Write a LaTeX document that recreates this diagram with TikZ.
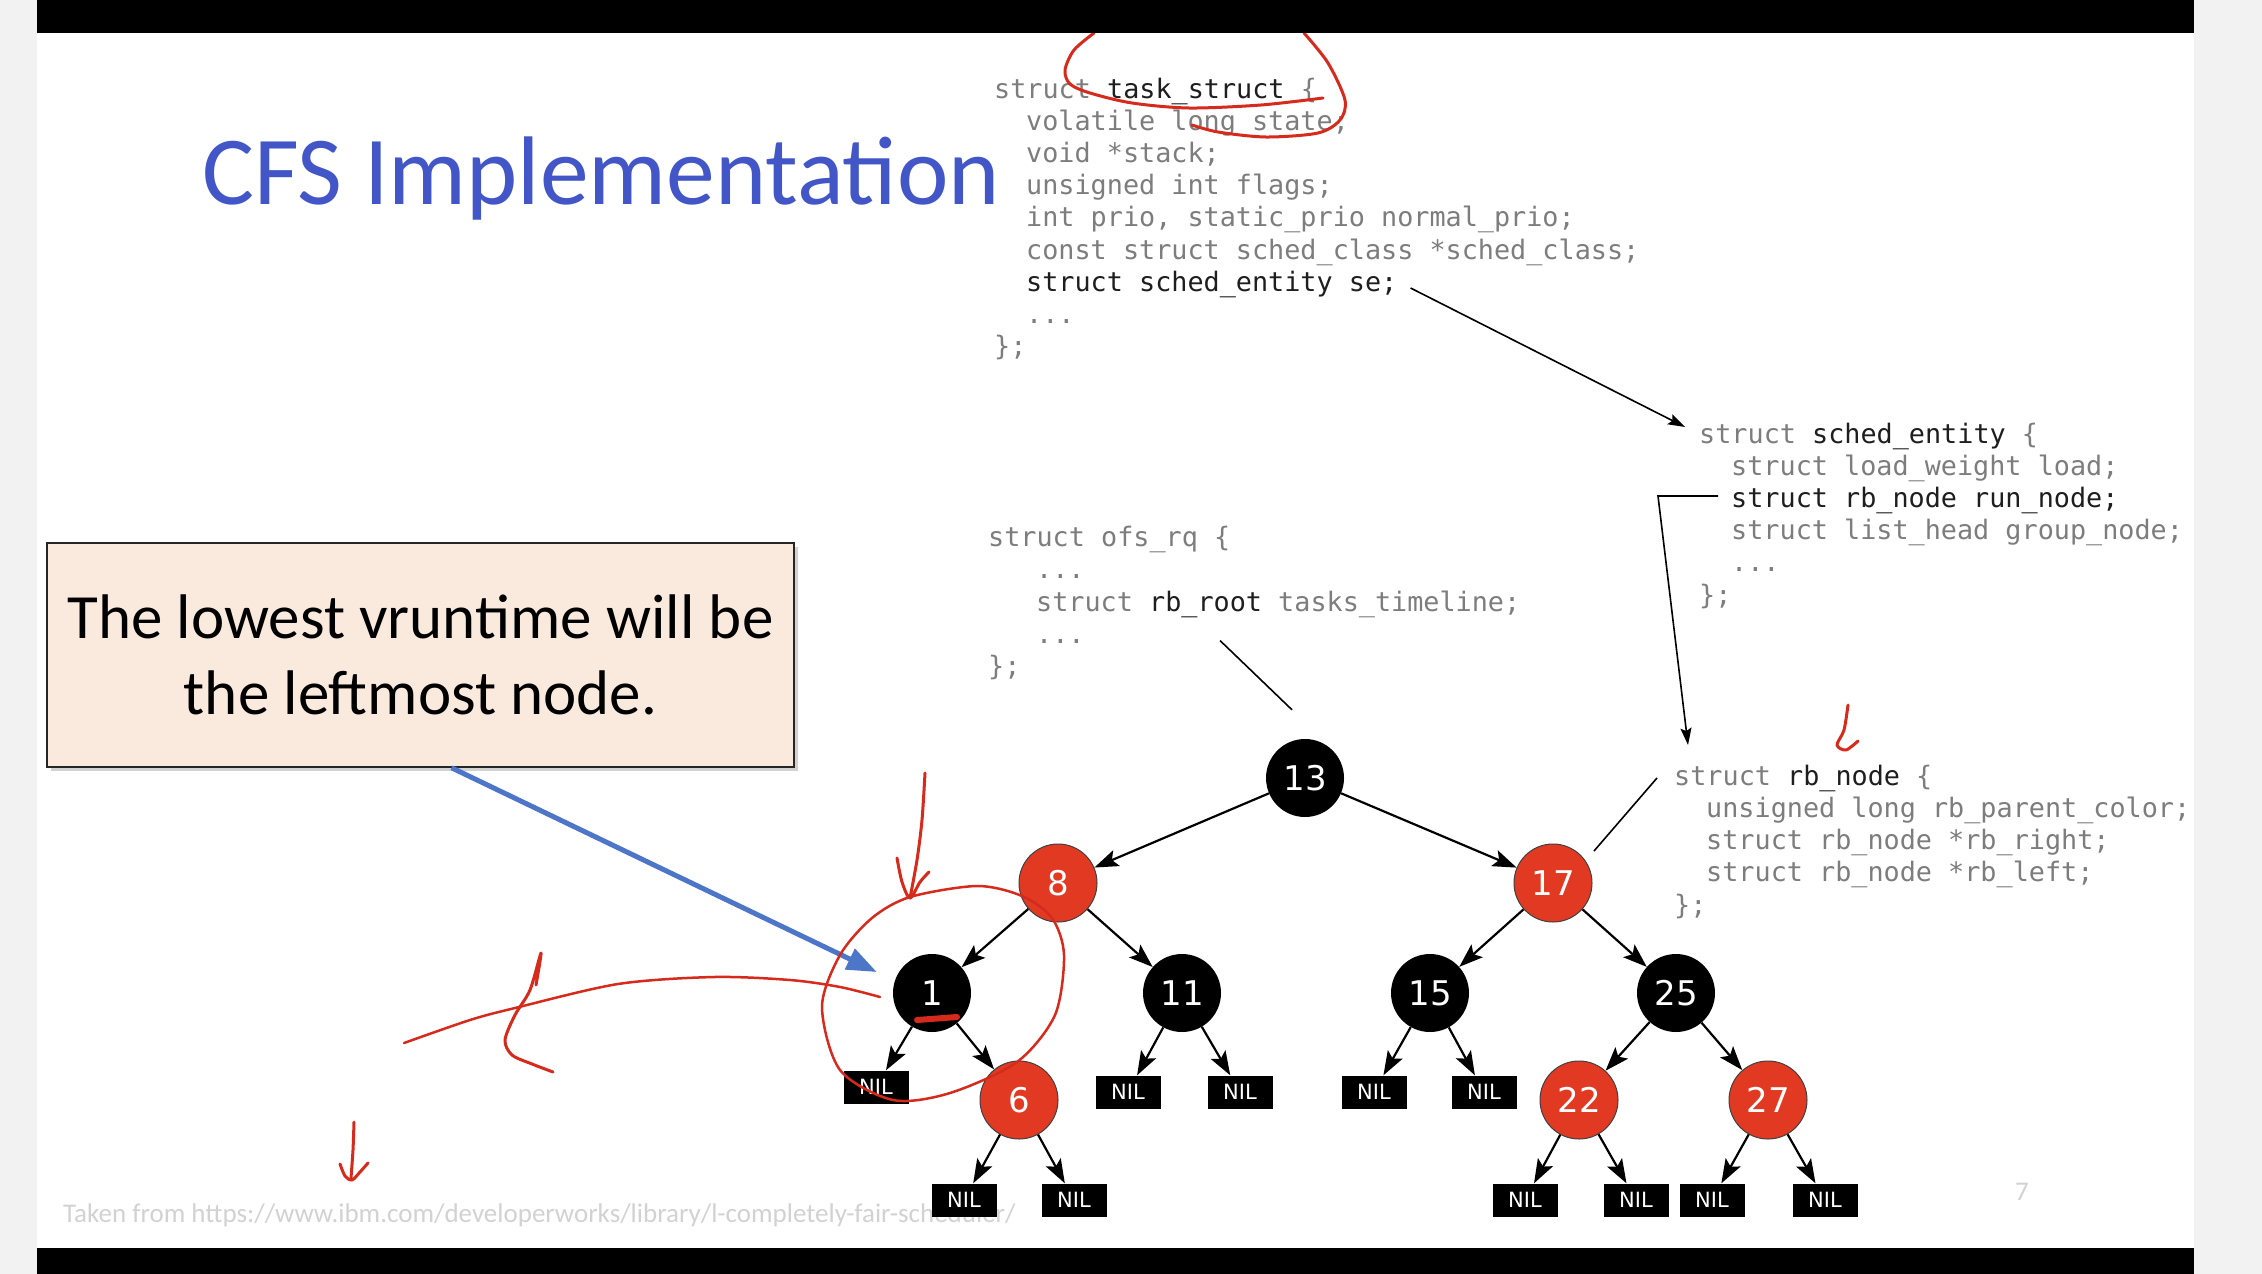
\documentclass[tikz,border=0pt]{standalone}
\usepackage{fontspec}
\setmainfont{Carlito}
\newfontfamily\codefont{DejaVu Sans Mono}
\newfontfamily\numfont{DejaVu Sans}
\usetikzlibrary{arrows.meta}
\usetikzlibrary{shadows}
\usetikzlibrary{calc}

\definecolor{titleblue}{RGB}{66,86,200}
\definecolor{nodered}{RGB}{226,58,34}
\definecolor{inkred}{RGB}{214,42,28}
\definecolor{codegray}{RGB}{125,125,125}
\definecolor{codedark}{RGB}{30,30,30}
\definecolor{boxfill}{RGB}{250,234,222}
\definecolor{arrowblue}{RGB}{78,118,200}
\definecolor{footgray}{RGB}{210,210,210}
\definecolor{stripgray}{RGB}{242,242,242}

\begin{document}
\frenchspacing
\begin{tikzpicture}[x=1pt,y=-1pt,
    rbblack/.style={circle,fill=black,minimum size=78pt,inner sep=0pt,text=white,font={\numfont\fontsize{34}{40}\selectfont}},
    rbred/.style={rbblack,fill=nodered,draw=black!75,line width=1pt},
    nil/.style={rectangle,fill=black,minimum width=65pt,minimum height=33pt,inner sep=0pt,text=white,font={\numfont\fontsize{21}{24}\selectfont}},
    edge/.style={line width=2.2pt,-{Stealth[length=24pt,width=17pt,inset=5pt]}},
    code/.style={anchor=base west,inner sep=0pt,text=codegray,font={\codefont\fontsize{26.8}{32}\selectfont}},
    dark/.style={text=codedark},
    ptr/.style={line width=1.6pt,-{Stealth[length=17pt,width=11pt,inset=3pt]}},
    ink/.style={draw=inkred,line width=3pt,line cap=round,line join=round}]

    \useasboundingbox (0,0) rectangle (2262,1274);
    % slide background
    \fill[white] (0,0) rectangle (2262,1274);
    \fill[stripgray] (0,0) rectangle (37,1274);
    \fill[stripgray] (2194,0) rectangle (2262,1274);

    \node[anchor=base west,inner sep=0pt,text=titleblue,font={\fontsize{97.5}{110}\selectfont}] (title) at (202,204) {CFS Implementation};

    \node[anchor=base west,inner sep=0pt,text=footgray,font={\fontsize{27}{30}\selectfont}] (source) at (63,1222)
        {Taken from https://www.ibm.com/developerworks/library/l-completely-fair-scheduler/};
    \node[anchor=base west,inner sep=0pt,text=footgray,font={\fontsize{27}{30}\selectfont}] (pagenum) at (2015,1200) {7};

    % task_struct
    \node[code] (ts1) at (994,98) {struct {\color{codedark}task\_struct} \{};
    \node[code] (ts2) at (1026,130) {volatile long state;};
    \node[code] (ts3) at (1026,162) {void *stack;};
    \node[code] (ts4) at (1026,194) {unsigned int flags;};
    \node[code] (ts5) at (1026,226) {int prio, static\_prio normal\_prio;};
    \node[code] (ts6) at (1026,259) {const struct sched\_class *sched\_class;};
    \node[code,dark] (se) at (1026,291) {struct sched\_entity se;};
    \node[code] (ts8) at (1026,323) {...};
    \node[code] (ts9) at (994,355) {\};};

    % sched_entity
    \node[code] (se1) at (1699,443) {struct {\color{codedark}sched\_entity} \{};
    \node[code] (se2) at (1731,475) {struct load\_weight load;};
    \node[code,dark] (rn) at (1731,507) {struct rb\_node run\_node;};
    \node[code] (se4) at (1731,539) {struct list\_head group\_node;};
    \node[code] (se5) at (1731,571) {...};
    \node[code] (se6) at (1699,604) {\};};

    % ofs_rq
    \node[code] (rq1) at (988,546) {struct ofs\_rq \{};
    \node[code] (rq2) at (1036,578) {...};
    \node[code] (rr) at (1036,611) {struct {\color{codedark}rb\_root} tasks\_timeline;};
    \node[code] (rq4) at (1036,643) {...};
    \node[code] (rq5) at (988,675) {\};};

    % rb_node
    \node[code] (rb1) at (1674,785) {struct {\color{codedark}rb\_node} \{};
    \node[code] (rb2) at (1706,817) {unsigned long rb\_parent\_color;};
    \node[code] (rb3) at (1706,849) {struct rb\_node *rb\_right;};
    \node[code] (rb4) at (1706,881) {struct rb\_node *rb\_left;};
    \node[code] (rb5) at (1674,914) {\};};

    % the tree
    \node[rbblack] (n13) at (1305,778) {13};
    \node[rbred] (n8) at (1058,883) {8};
    \node[rbred] (n17) at (1553,883) {17};
    \node[rbblack] (n1) at (932,993) {1};
    \node[rbblack] (n11) at (1182,993) {11};
    \node[rbblack] (n15) at (1430,993) {15};
    \node[rbblack] (n25) at (1676,993) {25};
    \node[rbred] (n6) at (1019,1100) {6};
    \node[rbred] (n22) at (1579,1100) {22};
    \node[rbred] (n27) at (1768,1100) {27};

    \node[nil] (nil1) at (876,1087) {NIL};
    \node[nil] (nil11a) at (1128,1092) {NIL};
    \node[nil] (nil11b) at (1240,1092) {NIL};
    \node[nil] (nil15a) at (1374,1092) {NIL};
    \node[nil] (nil15b) at (1484,1092) {NIL};
    \node[nil] (nil6a) at (964,1200) {NIL};
    \node[nil] (nil6b) at (1074,1200) {NIL};
    \node[nil] (nil22a) at (1525,1200) {NIL};
    \node[nil] (nil22b) at (1636,1200) {NIL};
    \node[nil] (nil27a) at (1712,1200) {NIL};
    \node[nil] (nil27b) at (1825,1200) {NIL};

    \draw[edge] (n13) -- (n8);
    \draw[edge] (n13) -- (n17);
    \draw[edge] (n8) -- (n1);
    \draw[edge] (n8) -- (n11);
    \draw[edge] (n17) -- (n15);
    \draw[edge] (n17) -- (n25);
    \draw[edge] (n1) -- (nil1);
    \draw[edge] (n1) -- (n6);
    \draw[edge] (n11) -- (nil11a);
    \draw[edge] (n11) -- (nil11b);
    \draw[edge] (n15) -- (nil15a);
    \draw[edge] (n15) -- (nil15b);
    \draw[edge] (n25) -- (n22);
    \draw[edge] (n25) -- (n27);
    \draw[edge] (n6) -- (nil6a);
    \draw[edge] (n6) -- (nil6b);
    \draw[edge] (n22) -- (nil22a);
    \draw[edge] (n22) -- (nil22b);
    \draw[edge] (n27) -- (nil27a);
    \draw[edge] (n27) -- (nil27b);

    % pointers between the structs
    \draw[ptr] ([xshift=13pt,yshift=-4pt]se.east) -- ([xshift=-14pt,yshift=9pt]se1.west);
    \draw[ptr] ([xshift=-13pt,yshift=4pt]rn.west) -- ++(-60,0) -- ([xshift=14pt,yshift=33pt]rb1.west);
    \draw[line width=1.6pt] ([xshift=184pt,yshift=-23pt]rr.south west) -- ([xshift=-13pt,yshift=29pt]n13.north);
    \draw[line width=1.6pt] ([xshift=-17pt]rb1.west) -- ([xshift=13pt,yshift=4pt]n17.north east);

    % note box
    \node[draw=black!85,line width=1.5pt,fill=boxfill,minimum width=747pt,minimum height=224pt,align=center,
        font={\fontsize{63}{76}\selectfont},drop shadow={shadow xshift=4pt,shadow yshift=-4pt,opacity=.35}]
        (box) at (420.5,655) {The lowest vruntime will be\\the leftmost node.};
    \draw[arrowblue,line width=5pt,-{Triangle[length=30pt,width=22pt]}] ([xshift=31pt]box.south) -- ([xshift=-16pt,yshift=21pt]n1.west);

    % pen marks
    \draw[ink] plot[smooth] coordinates {(1094,33) (1074,50) (1065,70) (1070,84) (1090,93) (1132,103) (1189,108) (1261,105) (1323,98)};
    \draw[ink] plot[smooth] coordinates {(1304,33) (1328,63) (1345,100) (1340,120) (1318,133) (1266,137) (1218,132) (1192,125)};
    \draw[ink] plot[smooth] coordinates {(1848,705) (1844,730) (1837,745) (1846,750) (1858,741)};
    \draw[ink] plot[smooth] coordinates {(925,773) (922,820) (917,860) (910,898)};
    \draw[ink] plot[smooth] coordinates {(897,858) (902,882) (910,898) (920,882) (929,872)};
    \draw[ink,line width=2.5pt] plot[smooth cycle] coordinates {(910,897) (977,886) (1022,896) (1052,918) (1064,955) (1055,1015)
        (1017,1062) (950,1093) (893,1100) (840,1070) (822,1007) (840,955) (872,918)};
    \draw[ink,line width=2.5pt] plot[smooth] coordinates {(404,1043) (470,1020) (515,1008) (618,984) (714,977) (790,980) (840,987) (880,997)};
    \draw[ink,line width=6pt] (917,1020) -- (957,1017);
    \draw[ink] plot[smooth] coordinates {(536,985) (541,953) (530,990) (515,1015) (505,1040) (512,1055) (532,1064) (553,1072)};
    \draw[ink] plot[smooth] coordinates {(354,1122) (353,1150) (351,1178)};
    \draw[ink] plot[smooth] coordinates {(340,1164) (345,1176) (352,1180) (360,1172) (368,1163)};

    % black bars
    \fill[black] (37,0) rectangle (2194,33);
    \fill[black] (37,1248) rectangle (2194,1274);
\end{tikzpicture}
\end{document}
